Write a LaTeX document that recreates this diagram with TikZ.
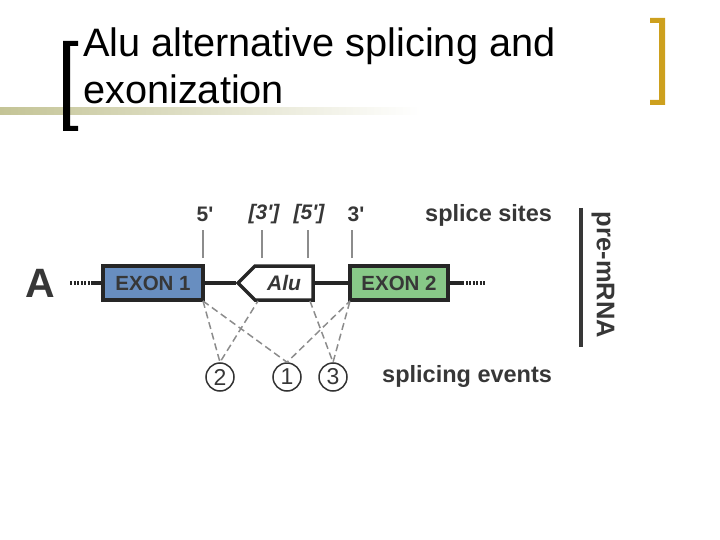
\documentclass[tikz,border=0pt]{standalone}
\usepackage{fontspec}
\setmainfont{Liberation Sans}
\usetikzlibrary{positioning,shapes.symbols}

\definecolor{exonblue}{RGB}{104,142,192}
\definecolor{exongreen}{RGB}{136,200,136}
\definecolor{bargold}{RGB}{205,160,30}
\definecolor{barolive}{RGB}{196,196,150}
\definecolor{inkgray}{RGB}{55,55,55}

\tikzset{
  exon/.style={draw=black!85, line width=3.5pt, minimum width=100pt, minimum height=34pt,
    font=\bfseries\fontsize{20.5}{20.5}\selectfont, text=inkgray},
  sitetick/.style={draw=black!45, line width=1.5pt},
  sitelbl/.style={font=\bfseries\fontsize{21}{21}\selectfont, text=inkgray, inner sep=0pt},
  event/.style={draw=black!45, dash pattern=on 7pt off 4pt, line width=1.5pt},
  evnum/.style={circle, draw=black!80, line width=1.5pt, minimum size=28pt, inner sep=0pt,
    font=\fontsize{23}{23}\selectfont, text=inkgray},
  caption/.style={font=\bfseries\fontsize{23.5}{23.5}\selectfont, text=inkgray, inner sep=0pt}
}

\begin{document}
\begin{tikzpicture}[x=1pt,y=-1pt]
  \useasboundingbox (0,0) rectangle (720,540);

  % title and slide decoration
  \shade[left color=barolive, right color=white] (0,108) rectangle (420,115);
  \fill[black] (63,41) rectangle (70,131) (63,41) rectangle (78,46) (63,126) rectangle (78,131);
  \fill[bargold] (659,18) rectangle (665,105) (650,18) rectangle (665,23) (650,100) rectangle (665,105);
  \node[anchor=base west, inner sep=0pt, align=left, font=\fontsize{39.7}{47}\selectfont] (title)
    at (83,104) {Alu alternative splicing and\\exonization};

  % pre-mRNA
  \node[font=\bfseries\fontsize{41}{41}\selectfont, text=inkgray] (lblA) at (40,283) {A};
  \node[exon, fill=exonblue] (ex1) at (153,283) {EXON 1};
  \node[signal, signal to=west, draw=black!85, line width=3.5pt, fill=white, minimum height=34pt,
    minimum width=75pt, font=\bfseries\itshape\fontsize{21}{21}\selectfont, text=inkgray] (alu)
    at (284,283) {Alu};
  \node[exon, fill=exongreen, minimum width=98pt] (ex2) at (399,283) {EXON 2};
  \coordinate (lend) at (70,283);
  \coordinate (lmid) at (92,283);
  \coordinate (rmid) at (462,283);
  \coordinate (rend) at (486,283);
  \draw[line width=3.5pt, black!85] (lmid) -- (ex1.west) (ex1.east) -- (alu.west) (alu.east) -- (ex2.west) (ex2.east) -- (rmid);
  \draw[line width=3.5pt, black!85, dash pattern=on 2pt off 1.5pt] (lend) -- (lmid) (rmid) -- (rend);

  % splice sites
  \coordinate (s5) at (203,258);
  \coordinate (s3a) at (262,258);
  \coordinate (s5a) at (308,258);
  \coordinate (s3) at (352,258);
  \node[sitelbl] (l5) at (205,214) {5\textquotesingle};
  \node[sitelbl, font=\bfseries\itshape\fontsize{21}{21}\selectfont] (l3a) at (264,214) {[3\textquotesingle]};
  \node[sitelbl, font=\bfseries\itshape\fontsize{21}{21}\selectfont] (l5a) at (309,214) {[5\textquotesingle]};
  \node[sitelbl] (l3) at (356,214) {3\textquotesingle};
  \foreach \s in {s5,s3a,s5a,s3}
    \draw[sitetick] (\s) -- ++(0,-28);
  \node[caption, anchor=west] (sites) at (425,215) {splice sites};

  \draw[line width=3.5pt, inkgray] (581,208) -- (581,347);
  \node[font=\bfseries\fontsize{25.5}{25.5}\selectfont, text=inkgray, rotate=-90] (pre) at (603,275) {pre-mRNA};

  % splicing events
  \node[evnum] (ev2) at (220,377) {2};
  \node[evnum] (ev1) at (287,377) {1};
  \node[evnum] (ev3) at (333,377) {3};
  \node[caption, anchor=west] (events) at (382,376) {splicing events};
  \coordinate (d1) at (203,301);
  \coordinate (d2) at (258,301);
  \coordinate (d3) at (310,301);
  \coordinate (d4) at (350,301);
  \draw[event] (d1) -- (ev2.north) -- (d2);
  \draw[event] (d1) -- (ev1.north) -- (d4);
  \draw[event] (d3) -- (ev3.north) -- (d4);
\end{tikzpicture}
\end{document}
